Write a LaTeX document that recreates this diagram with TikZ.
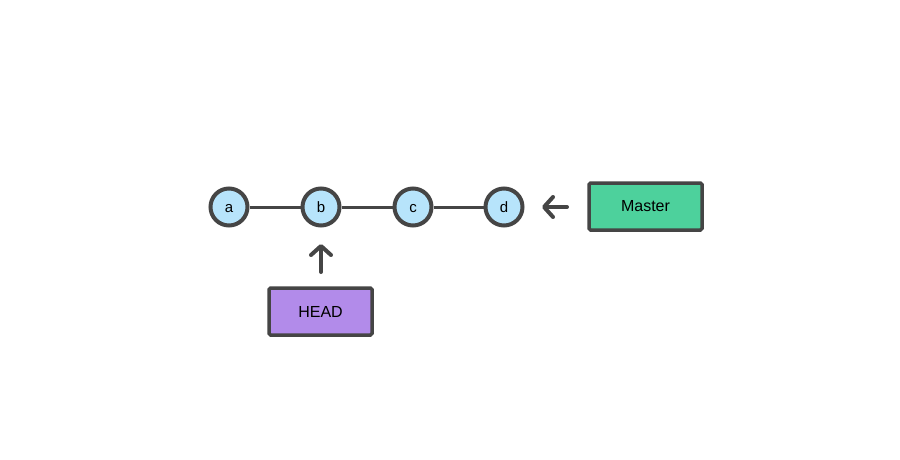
\documentclass[tikz,border=0pt]{standalone}
\usepackage{fontspec}
\setmainfont{Liberation Sans}
\usetikzlibrary{arrows.meta}
\definecolor{edgegray}{HTML}{454545}
\definecolor{commitblue}{HTML}{B7E4FB}
\definecolor{mastergreen}{HTML}{4DD19C}
\definecolor{headpurple}{HTML}{B28BEA}
\tikzset{
  commit/.style={circle, draw=edgegray, line width=4pt, fill=commitblue, minimum size=37pt, inner sep=0pt, text height=10.5pt, text depth=0pt, font=\fontsize{15}{17}\selectfont},
  refbox/.style={draw=edgegray, line width=3.5pt, rounded corners=1.5pt, minimum width=113pt, minimum height=47pt, inner sep=0pt, font=\fontsize{16}{19}\selectfont},
  link/.style={draw=edgegray, line width=3pt},
  pointer/.style={draw=edgegray, line width=4pt, line cap=round, -{Straight Barb[length=9pt,width=20pt,line width=4pt,round]}}
}
\begin{document}
\begin{tikzpicture}[x=1pt,y=-1pt]
\useasboundingbox (0,0) rectangle (900,460);
\fill[white] (0,0) rectangle (900,460);
\node[commit] (a) at (229,207) {a};
\node[commit] (b) at (321,207) {b};
\node[commit] (c) at (413,207) {c};
\node[commit] (d) at (504,207) {d};
\draw[link] (a) -- (b);
\draw[link] (b) -- (c);
\draw[link] (c) -- (d);
\node[refbox, fill=mastergreen] (master) at (645.5,206.5) {Master};
\node[refbox, fill=headpurple, minimum width=103pt] (head) at (320.5,311.5) {HEAD};
\coordinate (mtail) at (567,207);
\coordinate (mtip) at (542,207);
\draw[pointer] (mtail) -- (mtip);
\coordinate (htail) at (321,272);
\coordinate (htip) at (321,244);
\draw[pointer] (htail) -- (htip);
\end{tikzpicture}
\end{document}
